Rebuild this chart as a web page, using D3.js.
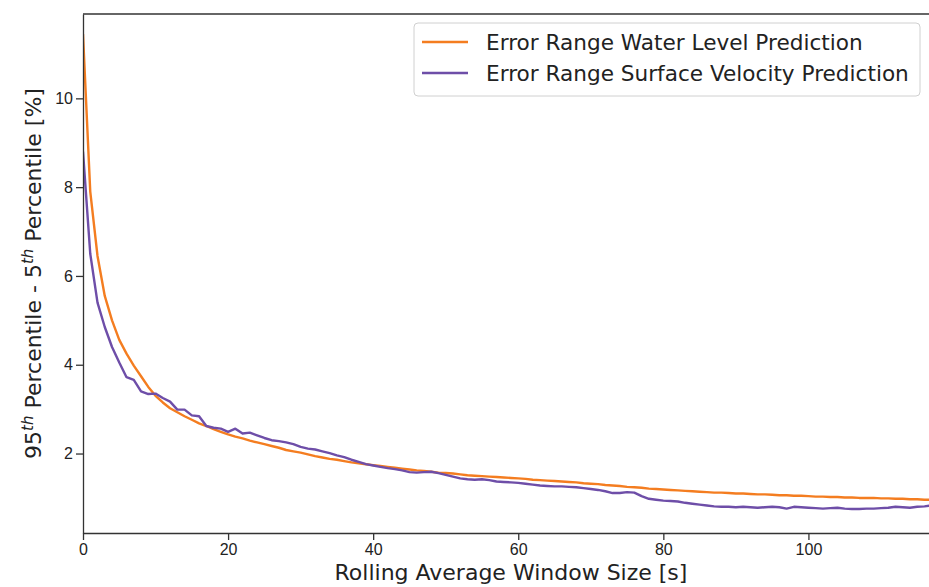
<!DOCTYPE html>
<html>
<head>
<meta charset="utf-8">
<script src="https://cdn.jsdelivr.net/npm/d3@7"></script>
<style>
    body { margin: 0; background: #fff; }
    svg { display: block; font-family: "DejaVu Sans", sans-serif; }
    .axis text { font-size: 16px; fill: #222; }
    .axis path, .axis line { stroke: #333; stroke-width: 1.3; }
</style>
</head>
<body>
<svg id="chart" width="929" height="587"></svg>
<script>
// Rolling average window size [s], one entry per second
var windowSizes = d3.range(0, 119);

// Error range of the water level prediction (95th - 5th percentile, %)
var waterLevel = [
    11.45, 7.9, 6.45, 5.55, 5.0, 4.56, 4.25, 3.98, 3.74, 3.5,
    3.3, 3.15, 3.02, 2.93, 2.84, 2.76, 2.68, 2.62, 2.55, 2.49,
    2.43, 2.38, 2.34, 2.29, 2.25, 2.21, 2.17, 2.13, 2.08, 2.05,
    2.02, 1.98, 1.94, 1.91, 1.88, 1.86, 1.83, 1.80, 1.78, 1.76,
    1.74, 1.72, 1.70, 1.68, 1.66, 1.64, 1.62, 1.61, 1.59, 1.57,
    1.56, 1.55, 1.53, 1.51, 1.50, 1.49, 1.48, 1.47, 1.46, 1.45,
    1.44, 1.43, 1.41, 1.40, 1.39, 1.38, 1.37, 1.36, 1.35, 1.33,
    1.32, 1.31, 1.29, 1.28, 1.27, 1.25, 1.24, 1.23, 1.21, 1.20,
    1.19, 1.18, 1.17, 1.16, 1.15, 1.14, 1.13, 1.12, 1.12, 1.11,
    1.10, 1.10, 1.09, 1.08, 1.08, 1.07, 1.06, 1.06, 1.05, 1.05,
    1.04, 1.03, 1.03, 1.02, 1.02, 1.01, 1.01, 1.00, 1.00, 1.00,
    0.99, 0.99, 0.98, 0.98, 0.97, 0.97, 0.96, 0.96, 0.95
];

// Error range of the surface velocity prediction (95th - 5th percentile, %)
var surfaceVelocity = [
    8.8, 6.5, 5.4, 4.85, 4.4, 4.05, 3.72, 3.66, 3.4, 3.34,
    3.35, 3.25, 3.17, 2.99, 2.99, 2.86, 2.84, 2.62, 2.58, 2.56,
    2.49, 2.56, 2.45, 2.47, 2.41, 2.35, 2.30, 2.28, 2.25, 2.21,
    2.15, 2.11, 2.09, 2.05, 2.01, 1.96, 1.92, 1.86, 1.81, 1.76,
    1.73, 1.70, 1.67, 1.65, 1.62, 1.58, 1.57, 1.58, 1.59, 1.56,
    1.52, 1.48, 1.44, 1.42, 1.41, 1.42, 1.40, 1.37, 1.36, 1.35,
    1.34, 1.32, 1.30, 1.28, 1.27, 1.26, 1.26, 1.25, 1.24, 1.22,
    1.20, 1.18, 1.15, 1.11, 1.11, 1.13, 1.12, 1.04, 0.98, 0.96,
    0.94, 0.93, 0.92, 0.89, 0.87, 0.85, 0.83, 0.81, 0.80, 0.80,
    0.79, 0.80, 0.79, 0.78, 0.79, 0.80, 0.79, 0.76, 0.80, 0.79,
    0.78, 0.77, 0.76, 0.77, 0.78, 0.76, 0.75, 0.75, 0.76, 0.76,
    0.77, 0.78, 0.80, 0.79, 0.78, 0.80, 0.81, 0.83, 0.84
];

var seriesNames = ["Error Range Water Level Prediction", "Error Range Surface Velocity Prediction"];
var xTicks = [0, 20, 40, 60, 80, 100];
var yTicks = [2, 4, 6, 8, 10];

var margin = {top: 14, left: 83, bottom: 54, right: -10};
var svg = d3.select("#chart");
var W = +svg.attr("width"), H = +svg.attr("height");
var width = W - margin.left - margin.right;
var height = H - margin.top - margin.bottom;

var color = d3.scaleOrdinal()
    .domain(seriesNames)
    .range(["#f47d20", "#6e4ea8"]);

var x = d3.scaleLinear()
    .domain([0, 118])
    .range([margin.left, margin.left + width]);

var y = d3.scaleLinear()
    .domain([0.21, 11.9])
    .range([margin.top + height, margin.top]);

var series = [
    {name: seriesNames[0], values: waterLevel},
    {name: seriesNames[1], values: surfaceVelocity}
];

// Lines
var line = d3.line()
    .x((d, i) => x(windowSizes[i]))
    .y(d => y(d));

svg.append("defs").append("clipPath")
    .attr("id", "clip")
    .append("rect")
    .attr("x", margin.left)
    .attr("y", margin.top)
    .attr("width", width)
    .attr("height", height);

svg.append("g")
    .attr("clip-path", "url(#clip)")
    .selectAll(".lines")
    .data(series)
    .enter()
    .append("path")
    .attr("class", "lines")
    .attr("d", d => line(d.values))
    .attr("stroke", d => color(d.name))
    .style("stroke-width", 2.4)
    .style("stroke-linejoin", "round")
    .style("fill", "none");

// Axes
var xAxis = svg.append("g")
    .attr("class", "axis")
    .attr("transform", "translate(0," + (margin.top + height) + ")")
    .call(d3.axisBottom(x).tickValues(xTicks).tickSize(7).tickPadding(4).tickSizeOuter(0));

var yAxis = svg.append("g")
    .attr("class", "axis")
    .attr("transform", "translate(" + margin.left + ",0)")
    .call(d3.axisLeft(y).tickValues(yTicks).tickSize(7).tickPadding(3).tickSizeOuter(0));

// top spine (right one falls outside the picture)
svg.append("line")
    .attr("x1", margin.left)
    .attr("x2", margin.left + width)
    .attr("y1", margin.top)
    .attr("y2", margin.top)
    .attr("stroke", "#333")
    .attr("stroke-width", 1.3);

// Axis labels
svg.append("text")
    .attr("x", margin.left + width / 2)
    .attr("y", 580)
    .attr("text-anchor", "middle")
    .style("font-size", "22px")
    .attr("fill", "#222")
    .text("Rolling Average Window Size [s]");

var ylab = svg.append("text")
    .attr("transform", "translate(41," + (margin.top + height / 2) + ") rotate(-90)")
    .attr("text-anchor", "middle")
    .style("font-size", "22px")
    .attr("fill", "#222");
ylab.append("tspan").text("95");
ylab.append("tspan").attr("dy", -8).style("font-size", "15px").style("font-style", "italic").text("th");
ylab.append("tspan").attr("dy", 8).text(" Percentile - 5");
ylab.append("tspan").attr("dy", -8).style("font-size", "15px").style("font-style", "italic").text("th");
ylab.append("tspan").attr("dy", 8).text(" Percentile [%]");

// Legend
var legend = svg.append("g");
legend.append("rect")
    .attr("x", 414)
    .attr("y", 23)
    .attr("width", 506)
    .attr("height", 73)
    .attr("rx", 4)
    .attr("fill", "#fff")
    .attr("fill-opacity", 0.8)
    .attr("stroke", "#d0d0d0");

var items = legend.selectAll(".legend")
    .data(seriesNames)
    .enter()
    .append("g")
    .attr("transform", (d, i) => "translate(0," + (42 + i * 31) + ")");
items.append("line")
    .attr("x1", 422)
    .attr("x2", 468)
    .attr("stroke", d => color(d))
    .style("stroke-width", 2.4);
items.append("text")
    .attr("x", 486)
    .attr("dy", "0.35em")
    .style("font-size", "21.6px")
    .attr("fill", "#222")
    .text(d => d);
</script>
</body>
</html>
